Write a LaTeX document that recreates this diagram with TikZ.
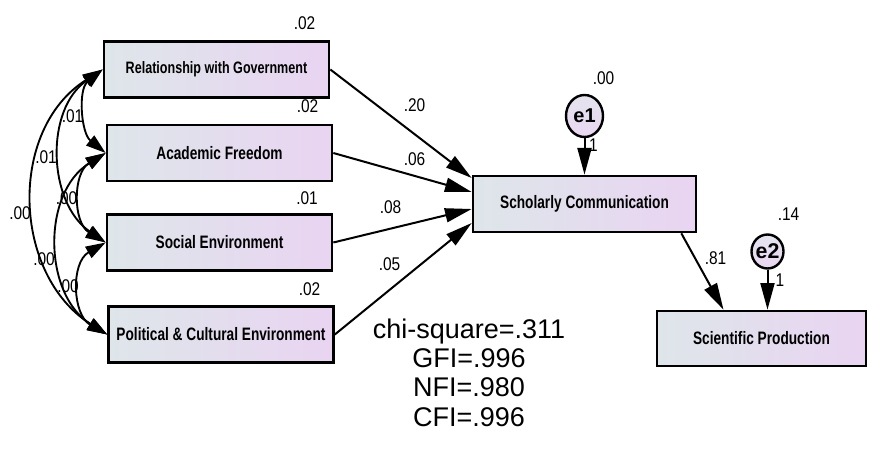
\documentclass[tikz,border=0pt]{standalone}
\usepackage{fontspec}
\setmainfont{Liberation Sans}
\newfontfamily\boxfont[FakeStretch=0.76]{Liberation Sans}
\newfontfamily\numfont[FakeStretch=0.84]{Liberation Sans}
\usetikzlibrary{arrows.meta,calc,shapes.geometric}
\definecolor{boxL}{RGB}{222,230,234}
\definecolor{boxR}{RGB}{233,212,242}
\definecolor{cirT}{RGB}{228,228,238}
\definecolor{cirB}{RGB}{234,214,242}
\begin{document}
\begin{tikzpicture}[x=0.75pt,y=-0.75pt,
  var/.style={draw=black, line width=2pt, left color=boxL, right color=boxR,
    minimum width=168.75pt, minimum height=42pt, inner sep=0pt,
    font=\boxfont\bfseries\fontsize{13.5}{15}\selectfont},
  err/.style={ellipse, draw=black, line width=1.8pt, top color=cirT, bottom color=cirB,
    inner sep=0pt, font=\bfseries},
  num/.style={inner sep=0pt, font=\numfont\fontsize{13.8}{15}\selectfont},
  path/.style={line width=1.5pt, arrows={-Triangle[length=20pt,width=10.5pt]}},
  cov/.style={line width=1.4pt, arrows={Triangle[length=15pt,width=9.5pt]-Triangle[length=15pt,width=9.5pt]}},
  stat/.style={inner sep=0pt, align=center, font=\fontsize{20.25}{21.8}\selectfont}
]
\useasboundingbox (0,0) rectangle (869,453);

% observed variables
\node[var] (b1) at (216.5,69.5) {\fontsize{12.4}{14}\selectfont Relationship with Government};
\node[var] (b2) at (219.5,153) {Academic Freedom};
\node[var] (b3) at (219.5,242.5) {Social Environment};
\node[var] (b4) at (221,334.5) {Political \& Cultural Environment};
\node[var, minimum width=167.25pt] (sc) at (584.5,204) {Scholarly Communication};
\node[var, minimum width=156.75pt, minimum height=41.25pt] (sp) at (761.5,338.5) {Scientific Production};

% error terms
\node[err, minimum width=27.75pt, minimum height=31.5pt, font=\bfseries\fontsize{15}{16}\selectfont] (e1) at (584.5,116) {\makebox[0pt]{e1}};
\node[err, minimum width=24pt, minimum height=25.5pt, font=\bfseries\fontsize{16}{18}\selectfont] (e2) at (767.5,251.5) {\makebox[0pt]{e2}};

% regression paths
\draw[path] (b1.east) -- ($(sc.west)+(0,-26)$);
\draw[path] (b2.east) -- ($(sc.west)+(0,-12)$);
\draw[path] (b3.east) -- ($(sc.west)+(0,5)$);
\draw[path] (b4.east) -- ($(sc.west)+(0,19)$);
\draw[path] ($(sc.south east)+(-16,0)$) -- ($(sp.north)+(-38,0)$);
\draw[path] (e1) -- (e1 |- sc.north);
\draw[path] (e2) -- (e2 |- sp.north);

% covariances
\draw[cov] (b1.west) .. controls +(-24.7,20) and +(-24.7,-20) .. (b2.west);
\draw[cov] (b2.west) .. controls +(-33,20) and +(-33,-20) .. (b3.west);
\draw[cov] (b3.west) .. controls +(-35,20) and +(-35,-20) .. (b4.west);
\draw[cov] (b1.west) .. controls +(-58,40) and +(-58,-40) .. (b3.west);
\draw[cov] (b2.west) .. controls +(-64,40) and +(-64,-40) .. (b4.west);
\draw[cov] (b1.west) .. controls +(-95,60) and +(-95,-60) .. (b4.west);

% estimates
\node[num] (v1) at (304.5,23.5) {.02};
\node[num] (v2) at (307.5,106.5) {.02};
\node[num] (v3) at (307,198) {.01};
\node[num] (v4) at (309.5,289.5) {.02};
\node[num] (p1) at (414.5,105.5) {.20};
\node[num] (p2) at (414.5,159) {.06};
\node[num] (p3) at (390.5,207) {.08};
\node[num] (p4) at (389.5,264) {.05};
\node[num] (r1) at (603.5,78.5) {.00};
\node[num] (w1) at (593.5,145) {1};
\node[num] (r2) at (788.5,214) {.14};
\node[num] (p5) at (715.5,258.5) {.81};
\node[num] (w2) at (780,280) {1};
\node[num] (c12) at (72.5,116.5) {.01};
\node[num] (c13) at (46,157.5) {.01};
\node[num] (c14) at (20,213.5) {.00};
\node[num] (c23) at (66.5,198.5) {.00};
\node[num] (c24) at (44,259) {.00};
\node[num] (c34) at (68,286) {.00};

% fit statistics
\node[stat, anchor=north] (fit) at (469,319) {chi-square=.311\\GFI=.996\\NFI=.980\\CFI=.996};
\end{tikzpicture}
\end{document}
